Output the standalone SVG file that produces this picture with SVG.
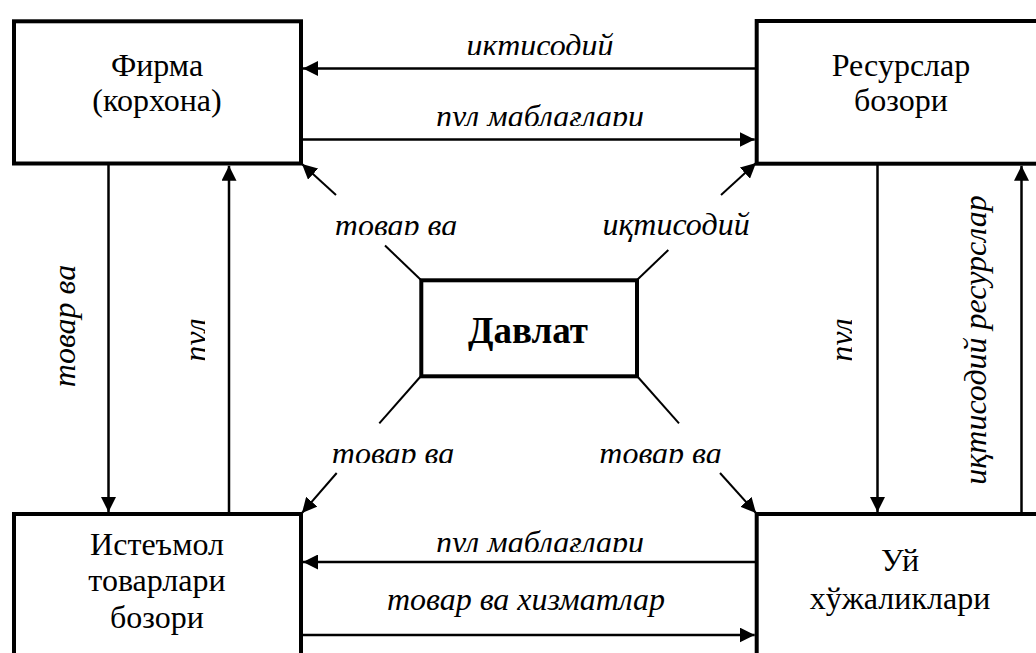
<svg xmlns="http://www.w3.org/2000/svg" width="1036" height="653" viewBox="0 0 1036 653">
<style>
.box{fill:#fff;stroke:#000;stroke-width:4}
.nt{font-size:32px;fill:#000;text-anchor:middle}
.bt{font-size:37px;font-weight:bold;fill:#000;text-anchor:middle}
.lb{font-size:32px;font-style:italic;fill:#000;text-anchor:middle}
.ln{stroke:#000;stroke-width:2.5;fill:none}
.dg{stroke:#000;stroke-width:2;fill:none}
</style>
<defs>
<marker id="ah" markerUnits="userSpaceOnUse" markerWidth="15" markerHeight="15" refX="15" refY="7.5" orient="auto">
<path d="M0,0 L15,7.5 L0,15 z" fill="#000"/>
</marker>
<clipPath id="c1"><rect x="300" y="0" width="456" height="55"/></clipPath>
<clipPath id="c2"><rect x="300" y="70" width="456" height="56"/></clipPath>
<clipPath id="c3"><rect x="300" y="500" width="456" height="52"/></clipPath>
<clipPath id="c4"><rect x="300" y="170" width="200" height="65"/></clipPath>
<clipPath id="c5"><rect x="300" y="420" width="200" height="43"/></clipPath>
<clipPath id="c6"><rect x="560" y="420" width="200" height="43"/></clipPath>
<clipPath id="c7"><rect x="150" y="170" width="55" height="340"/></clipPath>
<clipPath id="c8"><rect x="800" y="170" width="52" height="340"/></clipPath>
</defs>
<rect width="1036" height="653" fill="#fff"/>

<g id="connectors">
<line class="ln" x1="756" y1="68.5" x2="303" y2="68.5" marker-end="url(#ah)"/>
<line class="ln" x1="301" y1="139.5" x2="754.7" y2="139.5" marker-end="url(#ah)"/>
<line class="ln" x1="756" y1="562" x2="303" y2="562" marker-end="url(#ah)"/>
<line class="ln" x1="301" y1="635" x2="754.7" y2="635" marker-end="url(#ah)"/>
<line class="ln" x1="108.5" y1="163" x2="108.5" y2="512" marker-end="url(#ah)"/>
<line class="ln" x1="229" y1="514" x2="229" y2="165.7" marker-end="url(#ah)"/>
<line class="ln" x1="877.5" y1="163" x2="877.5" y2="512" marker-end="url(#ah)"/>
<line class="ln" x1="1021.5" y1="514" x2="1021.5" y2="165.7" marker-end="url(#ah)"/>
<line class="dg" x1="421" y1="280" x2="385" y2="245.5"/>
<line class="dg" x1="336" y1="195" x2="302" y2="164" marker-end="url(#ah)"/>
<line class="dg" x1="637" y1="280" x2="668.3" y2="250"/>
<line class="dg" x1="721" y1="195" x2="756" y2="163" marker-end="url(#ah)"/>
<line class="dg" x1="421" y1="376" x2="379.3" y2="423.3"/>
<line class="dg" x1="336.7" y1="473" x2="302" y2="513" marker-end="url(#ah)"/>
<line class="dg" x1="637" y1="376" x2="679" y2="423.3"/>
<line class="dg" x1="720" y1="473" x2="756" y2="513" marker-end="url(#ah)"/>
</g>

<g id="labels" font-family="Liberation Serif">
<text class="lb" x="540" y="56" clip-path="url(#c1)">иктисодий</text>
<text class="lb" x="540" y="127" clip-path="url(#c2)">пул маблағлари</text>
<text class="lb" x="540" y="553" clip-path="url(#c3)">пул маблағлари</text>
<text class="lb" x="526" y="610">товар ва хизматлар</text>
<text class="lb" x="396" y="236" clip-path="url(#c4)">товар ва</text>
<text class="lb" x="676" y="235">иқтисодий</text>
<text class="lb" x="393" y="464" clip-path="url(#c5)">товар ва</text>
<text class="lb" x="660.5" y="464" clip-path="url(#c6)">товар ва</text>
<text class="lb" transform="translate(75,326) rotate(-90)">товар ва</text>
<g clip-path="url(#c7)"><text class="lb" transform="translate(206,340) rotate(-90)">пул</text></g>
<g clip-path="url(#c8)"><text class="lb" transform="translate(852,340) rotate(-90)">пул</text></g>
<text class="lb" transform="translate(986,340) rotate(-90)">иқтисодий ресурслар</text>
</g>

<g id="firma" font-family="Liberation Serif">
<rect class="box" x="14" y="21.3" width="287" height="142.2"/>
<text class="nt" x="157" y="76">Фирма</text>
<text class="nt" x="157" y="111">(корхона)</text>
</g>
<g id="resurslar" font-family="Liberation Serif">
<rect class="box" x="756.7" y="21" width="300" height="142.7"/>
<text class="nt" x="901" y="76">Ресурслар</text>
<text class="nt" x="901" y="111">бозори</text>
</g>
<g id="istemol" font-family="Liberation Serif">
<rect class="box" x="14" y="514" width="287" height="160"/>
<text class="nt" x="157" y="555">Истеъмол</text>
<text class="nt" x="157" y="591">товарлари</text>
<text class="nt" x="157" y="628">бозори</text>
</g>
<g id="uy" font-family="Liberation Serif">
<rect class="box" x="756.7" y="514" width="300" height="160"/>
<text class="nt" x="900" y="571">Уй</text>
<text class="nt" x="900" y="609">хўжаликлари</text>
</g>
<g id="davlat" font-family="Liberation Serif">
<rect class="box" x="421.3" y="280.3" width="215.7" height="96"/>
<text class="bt" x="528" y="343">Давлат</text>
</g>
</svg>
